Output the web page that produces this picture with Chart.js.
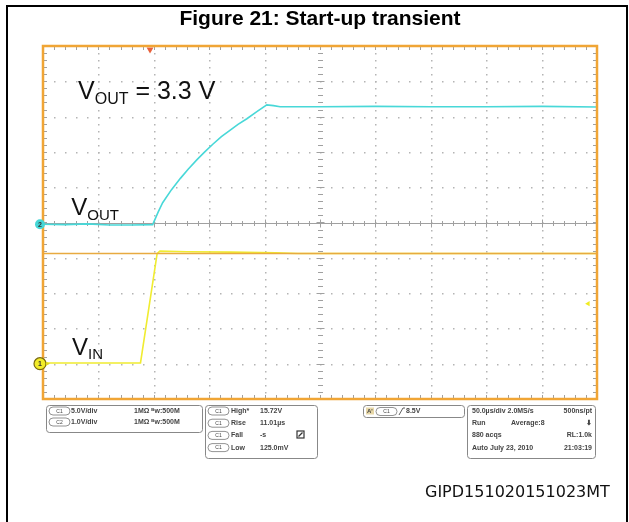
<!DOCTYPE html>
<html>
<head>
<meta charset="utf-8">
<script src="https://cdn.jsdelivr.net/npm/chart.js@4.4.1/dist/chart.umd.min.js"></script>
<style>
  body { margin: 0; background: #fff; }
  #wrap { position: relative; width: 629px; height: 522px; }
</style>
</head>
<body>
<div id="wrap"><canvas id="scope"></canvas></div>
<script>
// time in microseconds, 50 us/div over 10 divisions
const timeOut = [0, 20, 40, 60, 80, 99, 104, 108, 116, 124, 131, 139, 146, 153, 161, 169, 176, 184, 193, 202, 208, 214, 250, 300, 350, 400, 450, 500];
const vOut = [-0.05, -0.06, -0.04, -0.07, -0.07, -0.06, 0.3, 0.56, 0.93, 1.25, 1.51, 1.78, 2.0, 2.21, 2.43, 2.62, 2.78, 2.94, 3.14, 3.33, 3.31, 3.28, 3.28, 3.29, 3.28, 3.28, 3.29, 3.27];
const timeIn = [0, 40, 88, 103, 105.5, 130, 170, 210, 230, 500];
const vIn = [0.1, 0.1, 0.1, 15.6, 15.95, 15.85, 15.8, 15.7, 15.6, 15.6];
const highLevel = 15.6;      // C1 High measurement cursor
const triggerLevel = 8.5;
const triggerTime = 96.6;
const timeRange = [0, 500];
const outRange = [-5, 5];    // C2 1.0 V/div, ground on centre line
const inRange = [-5, 45];    // C1 5.0 V/div, ground 4 div below centre

const chanRows = [['C1', '5.0V/div', '1MΩ \u1D2Eᴡ:500M'], ['C2', '1.0V/div', '1MΩ \u1D2Eᴡ:500M']];
const measRows = [['High*', '15.72V'], ['Rise', '11.01µs'], ['Fall', '-s'], ['Low', '125.0mV']];
const acqRows = [['50.0µs/div 2.0MS/s', '', '500ns/pt'], ['Run', 'Average:8', '⬇'], ['880 acqs', '', 'RL:1.0k'], ['Auto', 'July 23, 2010', '21:03:19']];

const pts = (xs, ys) => xs.map((x, i) => ({ x: x, y: ys[i] }));

function rrect(ctx, x, y, w, h, r) {
  ctx.beginPath();
  ctx.roundRect(x, y, w, h, r);
  ctx.stroke();
}

function pill(ctx, x, y, label) {
  ctx.strokeStyle = '#777';
  ctx.lineWidth = 0.8;
  rrect(ctx, x, y - 4, 21, 8, 4);
  ctx.font = '5px "Liberation Sans", Arial';
  ctx.textAlign = 'center';
  ctx.fillText(label, x + 10.5, y + 0.5);
  ctx.textAlign = 'left';
}

function vLabel(ctx, x, y, main, sub, rest, size) {
  ctx.font = size + 'px "Liberation Sans", Arial';
  ctx.fillText(main, x, y);
  let w = ctx.measureText(main).width;
  const s = Math.round(size * 0.62);
  ctx.font = s + 'px "Liberation Sans", Arial';
  ctx.fillText(sub, x + w, y + size * 0.2);
  w += ctx.measureText(sub).width;
  if (rest) {
    ctx.font = size + 'px "Liberation Sans", Arial';
    ctx.fillText(rest, x + w, y);
  }
}

const scopeDeco = {
  id: 'scopeDeco',
  beforeDatasetsDraw(chart) {
    const { ctx, chartArea: a } = chart;
    const dx = (a.right - a.left) / 10, dy = (a.bottom - a.top) / 10;
    ctx.save();
    // dotted graticule
    ctx.fillStyle = '#b4b4b4';
    for (let i = 1; i < 10; i++) {
      if (i === 5) continue;
      const x = Math.round(a.left + i * dx);
      for (let k = 1; k < 50; k++) ctx.fillRect(x, Math.round(a.top + k * dy / 5), 1.5, 1.5);
      const y = Math.round(a.top + i * dy);
      for (let k = 1; k < 50; k++) ctx.fillRect(Math.round(a.left + k * dx / 5), y, 1.5, 1.5);
    }
    // centre cross with minor ticks
    const cx = Math.round(a.left + 5 * dx) + 0.5, cy = Math.round(a.top + 5 * dy) + 0.5;
    ctx.strokeStyle = '#a0a0a0';
    ctx.lineWidth = 1;
    ctx.beginPath();
    ctx.moveTo(a.left, cy); ctx.lineTo(a.right, cy);
    for (let k = 1; k < 50; k++) {
      const l = k % 5 === 0 ? 4 : 2.5;
      const x = Math.round(a.left + k * dx / 5) + 0.5;
      ctx.moveTo(x, cy - l); ctx.lineTo(x, cy + l);
      const y = Math.round(a.top + k * dy / 5) + 0.5;
      ctx.moveTo(cx - l, y); ctx.lineTo(cx + l, y);
    }
    // ticks along the frame
    for (let k = 1; k < 50; k++) {
      const x = Math.round(a.left + k * dx / 5) + 0.5;
      ctx.moveTo(x, a.top); ctx.lineTo(x, a.top + 4);
      ctx.moveTo(x, a.bottom); ctx.lineTo(x, a.bottom - 4);
      const y = Math.round(a.top + k * dy / 5) + 0.5;
      ctx.moveTo(a.left, y); ctx.lineTo(a.left + 4, y);
      ctx.moveTo(a.right, y); ctx.lineTo(a.right - 4, y);
    }
    ctx.stroke();
    ctx.restore();
  },
  afterDatasetsDraw(chart) {
    const { ctx, chartArea: a } = chart;
    ctx.save();
    ctx.strokeStyle = '#f0a535';
    ctx.lineWidth = 2.5;
    ctx.strokeRect(a.left, a.top, a.right - a.left, a.bottom - a.top);
    ctx.restore();
  },
  afterDraw(chart) {
    const { ctx, chartArea: a, scales } = chart;
    const xs = scales.x, yo = scales.yOut, yi = scales.yIn;
    ctx.save();
    // figure border
    ctx.strokeStyle = '#000';
    ctx.lineWidth = 2;
    ctx.strokeRect(7, 6, 620, 530);

    // channel ground markers (drawn over the frame)
    const m2 = chart.getDatasetMeta(4).data[0], m1 = chart.getDatasetMeta(3).data[0];
    ctx.fillStyle = '#44d6d6';
    ctx.beginPath(); ctx.arc(m2.x, m2.y, 5, 0, Math.PI * 2); ctx.fill();
    ctx.fillStyle = '#f2ec2a';
    ctx.strokeStyle = '#7a6a10';
    ctx.lineWidth = 1.2;
    ctx.beginPath(); ctx.arc(m1.x, m1.y, 6, 0, Math.PI * 2); ctx.fill(); ctx.stroke();
    ctx.beginPath(); ctx.moveTo(m1.x + 6, m1.y - 2); ctx.lineTo(m1.x + 10, m1.y); ctx.lineTo(m1.x + 6, m1.y + 2); ctx.fillStyle = '#e0d820'; ctx.fill();
    ctx.fillStyle = '#333';
    ctx.font = 'bold 7px "Liberation Sans", Arial';
    ctx.textAlign = 'center'; ctx.textBaseline = 'middle';
    ctx.fillText('2', m2.x, m2.y + 0.5);
    ctx.fillText('1', m1.x, m1.y + 0.5);
    ctx.textAlign = 'left'; ctx.textBaseline = 'alphabetic';

    // trace labels
    ctx.fillStyle = '#111';
    vLabel(ctx, xs.getPixelForValue(31.6), yo.getPixelForValue(3.5), 'V', 'OUT', ' = 3.3 V', 25);
    vLabel(ctx, xs.getPixelForValue(25.5), yo.getPixelForValue(0.22), 'V', 'OUT', '', 24);
    vLabel(ctx, xs.getPixelForValue(26.2), yi.getPixelForValue(1.3), 'V', 'IN', '', 24);

    // status panel
    const top = a.bottom + 6;
    ctx.strokeStyle = '#888';
    ctx.lineWidth = 1;
    rrect(ctx, 46.5, top + 0.5, 156, 27, 3);
    rrect(ctx, 205.5, top + 0.5, 112, 53, 3);
    rrect(ctx, 363.5, top + 0.5, 101, 12, 3);
    rrect(ctx, 467.5, top + 0.5, 128, 53, 3);
    ctx.fillStyle = '#444';
    ctx.textBaseline = 'middle';
    chanRows.forEach((r, i) => {
      const y = top + 6 + i * 11;
      pill(ctx, 49, y, r[0]);
      ctx.font = 'bold 7px "Liberation Sans", Arial';
      ctx.fillText(r[1], 71, y);
      ctx.fillText(r[2], 134, y);
    });
    measRows.forEach((r, i) => {
      const y = top + 6 + i * 12.2;
      pill(ctx, 208, y, 'C1');
      ctx.font = 'bold 7px "Liberation Sans", Arial';
      ctx.fillText(r[0], 231, y);
      ctx.fillText(r[1], 260, y);
    });
    ctx.strokeStyle = '#333';
    ctx.lineWidth = 1.2;
    ctx.strokeRect(297, top + 26, 7, 7);
    ctx.beginPath(); ctx.moveTo(298.5, top + 31.5); ctx.lineTo(302.5, top + 27.5); ctx.stroke();
    // trigger box
    ctx.fillStyle = '#e8d8a8';
    ctx.fillRect(366, top + 2.5, 8, 7);
    ctx.fillStyle = '#444';
    ctx.font = 'bold 6px "Liberation Sans", Arial';
    ctx.fillText("A'", 367, top + 6.5);
    pill(ctx, 376, top + 6.5, 'C1');
    ctx.strokeStyle = '#333';
    ctx.beginPath(); ctx.moveTo(399, top + 10); ctx.lineTo(403, top + 3); ctx.lineTo(405, top + 3); ctx.stroke();
    ctx.font = 'bold 7px "Liberation Sans", Arial';
    ctx.fillText('8.5V', 406, top + 6.5);
    acqRows.forEach((r, i) => {
      const y = top + 6 + i * 12.2;
      ctx.fillText(r[0], 472, y);
      if (r[1]) ctx.fillText(r[1], i === 3 ? 490 : 511, y);
      ctx.textAlign = 'right';
      ctx.fillText(r[2], 592, y);
      ctx.textAlign = 'left';
    });

    // figure code
    ctx.textBaseline = 'alphabetic';
    ctx.fillStyle = '#111';
    ctx.font = '16px "DejaVu Sans", Verdana';
    ctx.fillText('GIPD151020151023MT', 425, 497);
    ctx.restore();
  }
};

new Chart(document.getElementById('scope'), {
  type: 'line',
  data: {
    datasets: [
      { label: 'Trigger', data: [{ x: triggerTime, y: 44.5 }], yAxisID: 'yIn', showLine: false,
        pointStyle: 'triangle', rotation: 180, pointRadius: 4, backgroundColor: '#e8603a', borderWidth: 0, clip: false },
      { label: 'Trigger level', data: [{ x: 492, y: triggerLevel }], yAxisID: 'yIn', showLine: false,
        pointStyle: 'triangle', rotation: -90, pointRadius: 3, backgroundColor: '#f0ec20', borderWidth: 0 },
      { label: 'High', data: [{ x: timeRange[0], y: highLevel }, { x: timeRange[1], y: highLevel }], yAxisID: 'yIn',
        borderColor: '#e8aa40', borderWidth: 1.6, pointRadius: 0 },
      { label: 'C1 ground', data: [{ x: -2.7, y: 0 }], yAxisID: 'yIn', showLine: false, pointRadius: 0, clip: false },
      { label: 'C2 ground', data: [{ x: -2.7, y: vOut[0] }], yAxisID: 'yOut', showLine: false, pointRadius: 0, clip: false },
      { label: 'VIN', data: pts(timeIn, vIn), yAxisID: 'yIn', borderColor: '#f0ec30', borderWidth: 1.6, pointRadius: 0 },
      { label: 'VOUT', data: pts(timeOut, vOut), yAxisID: 'yOut', borderColor: '#48d8d8', borderWidth: 1.6, pointRadius: 0 }
    ]
  },
  options: {
    responsive: true,
    maintainAspectRatio: false,
    animation: false,
    events: [],
    layout: { padding: { left: 43, right: 32, top: 0, bottom: 123 } },
    plugins: {
      legend: { display: false },
      tooltip: { enabled: false },
      title: {
        display: true,
        text: 'Figure 21: Start-up transient',
        color: '#000',
        font: { family: '"Liberation Sans", Arial', size: 21, weight: 'bold', lineHeight: 1.2 },
        padding: { top: 7, bottom: 13.8 }
      }
    },
    scales: {
      x: { type: 'linear', min: timeRange[0], max: timeRange[1], display: false },
      yOut: { type: 'linear', min: outRange[0], max: outRange[1], display: false },
      yIn: { type: 'linear', min: inRange[0], max: inRange[1], display: false }
    }
  },
  plugins: [scopeDeco]
});
</script>
</body>
</html>
